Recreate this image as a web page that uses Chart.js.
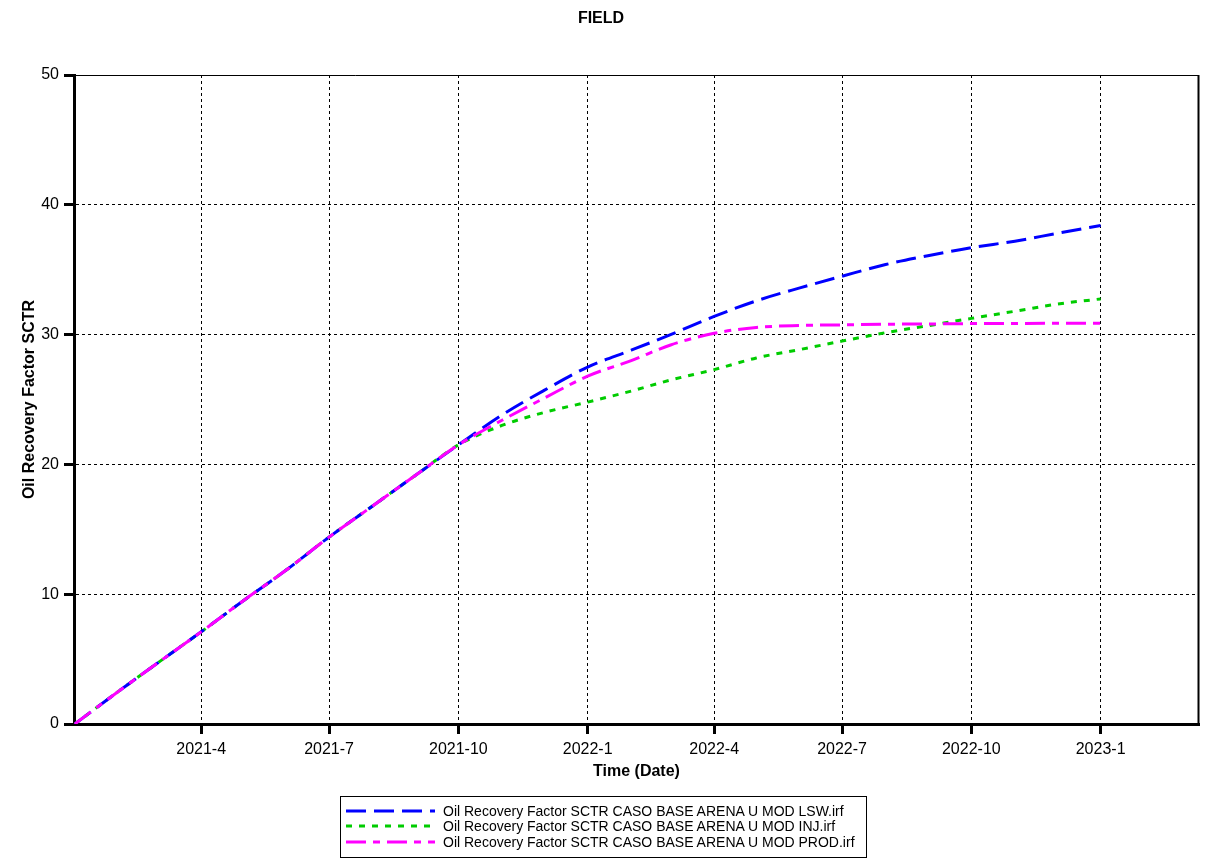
<!DOCTYPE html>
<html>
<head>
<meta charset="utf-8">
<title>FIELD</title>
<script src="https://cdn.jsdelivr.net/npm/chart.js@4.4.0/dist/chart.umd.min.js"></script>
<style>
html, body { margin: 0; padding: 0; background: #fff; }
#wrap { position: relative; width: 1205px; height: 865px; }
#legend {
    position: absolute; left: 340px; top: 796px; width: 527px; height: 62px;
    box-sizing: border-box; border: 1px solid #000; padding-top: 6px;
    font: 14px "Liberation Sans", Arial, sans-serif; color: #000;
}
.row { display: flex; align-items: center; height: 15.6px; white-space: nowrap; }
.row svg { margin-left: 5px; margin-right: 8px; flex: none; }
</style>
</head>
<body>
<div id="wrap">
    <canvas id="chart" width="1205" height="865"></canvas>
    <div id="legend"></div>
</div>
<script>
// monthly samples
const dates = [
    '2021-01-01', '2021-02-01', '2021-03-01', '2021-04-01', '2021-05-01', '2021-06-01',
    '2021-07-01', '2021-08-01', '2021-09-01', '2021-10-01', '2021-11-01', '2021-12-01',
    '2022-01-01', '2022-02-01', '2022-03-01', '2022-04-01', '2022-05-01', '2022-06-01',
    '2022-07-01', '2022-08-01', '2022-09-01', '2022-10-01', '2022-11-01', '2022-12-01',
    '2023-01-01'
];
const lswValues  = [0, 2.5, 4.7, 7.1, 9.5, 11.9, 14.4, 16.8, 19.2, 21.5, 23.8, 25.7, 27.5, 28.8, 30.0, 31.4, 32.6, 33.6, 34.5, 35.4, 36.1, 36.7, 37.2, 37.8, 38.4];
const injValues  = [0, 2.5, 4.7, 7.1, 9.5, 11.9, 14.4, 16.8, 19.2, 21.5, 23.0, 24.0, 24.8, 25.65, 26.5, 27.3, 28.2, 28.85, 29.5, 30.15, 30.7, 31.25, 31.8, 32.35, 32.75];
const prodValues = [0, 2.5, 4.7, 7.1, 9.5, 11.9, 14.4, 16.8, 19.2, 21.5, 23.4, 25.1, 26.8, 28.0, 29.2, 30.1, 30.55, 30.7, 30.75, 30.8, 30.82, 30.85, 30.86, 30.87, 30.88];

const seriesNames = [
    'Oil Recovery Factor SCTR CASO BASE ARENA U MOD LSW.irf',
    'Oil Recovery Factor SCTR CASO BASE ARENA U MOD INJ.irf',
    'Oil Recovery Factor SCTR CASO BASE ARENA U MOD PROD.irf'
];

const xTickDates  = ['2021-04-01', '2021-07-01', '2021-10-01', '2022-01-01', '2022-04-01', '2022-07-01', '2022-10-01', '2023-01-01'];
const xTickLabels = ['2021-4', '2021-7', '2021-10', '2022-1', '2022-4', '2022-7', '2022-10', '2023-1'];
const xStart = '2020-12-31T12:00:00Z';
const xEnd = '2023-03-12T00:00:00Z';

const colors = ['#0000ff', '#00cc00', '#ff00ff'];
const dashes = [[20, 8], [6, 7], [20, 7, 7, 7]];

// days since 2021-01-01, used as the linear x value
const t0 = Date.UTC(2021, 0, 1);
function dayOf(s){ return (Date.parse(s.length === 10 ? s + 'T00:00:00Z' : s) - t0) / 86400000; }

const font = '"Liberation Sans", Arial, sans-serif';
Chart.defaults.font.family = font;
Chart.defaults.color = '#000';

function toPoints(vals){ return dates.map((d, i) => ({ x: dayOf(d), y: vals[i] })); }

const allValues = [lswValues, injValues, prodValues];
const drawOrder = [1, 2, 0]; // magenta on top, green at the bottom
const datasets = allValues.map((vals, i) => ({
    label: seriesNames[i],
    data: toPoints(vals),
    borderColor: colors[i],
    backgroundColor: colors[i],
    borderWidth: 3,
    borderDash: dashes[i],
    pointRadius: 0,
    fill: false,
    cubicInterpolationMode: 'monotone',
    order: drawOrder[i]
}));

const tickDays = xTickDates.map(dayOf);

// frame top/right plus the chart title
const framePlugin = {
    id: 'frame',
    afterDraw(chart){
        const { ctx, chartArea: a } = chart;
        ctx.save();
        ctx.strokeStyle = '#000';
        ctx.lineWidth = 1;
        ctx.beginPath(); ctx.moveTo(a.left, a.top + 0.5); ctx.lineTo(a.right, a.top + 0.5); ctx.stroke();
        ctx.lineWidth = 2;
        ctx.beginPath(); ctx.moveTo(a.right - 0.5, a.top); ctx.lineTo(a.right - 0.5, a.bottom); ctx.stroke();
        ctx.fillStyle = '#000';
        ctx.font = 'bold 16px ' + font;
        ctx.textAlign = 'center';
        ctx.textBaseline = 'middle';
        ctx.fillText('FIELD', 601, 19);
        ctx.restore();
    }
};

const gridOpts = {
    color: '#000', lineWidth: 1,
    tickLength: 10, tickWidth: 3, tickColor: '#000', tickBorderDash: []
};
const borderOpts = { color: '#000', width: 3, dash: [3, 3] };

new Chart(document.getElementById('chart'), {
    type: 'line',
    data: { datasets },
    plugins: [framePlugin],
    options: {
        responsive: false,
        animation: false,
        devicePixelRatio: 1,
        layout: { padding: { top: 75, right: 6, bottom: 81, left: 0 } },
        plugins: { legend: { display: false }, title: { display: false }, tooltip: { enabled: false } },
        scales: {
            x: {
                type: 'linear',
                min: dayOf(xStart),
                max: dayOf(xEnd),
                afterBuildTicks: s => { s.ticks = tickDays.map(v => ({ value: v })); },
                afterFit: s => { s.height = 60; },
                ticks: {
                    autoSkip: false, maxRotation: 0, padding: 6,
                    font: { size: 16 }, color: '#000',
                    callback: (v, i) => xTickLabels[i]
                },
                grid: gridOpts,
                border: borderOpts,
                title: { display: true, text: 'Time (Date)', font: { size: 16, weight: 'bold' }, padding: { top: 0, bottom: 2.4 } }
            },
            y: {
                min: 0, max: 50,
                afterFit: s => { s.width = 74; },
                ticks: { stepSize: 10, padding: 5, font: { size: 16 }, color: '#000' },
                grid: gridOpts,
                border: borderOpts,
                title: { display: true, text: 'Oil Recovery Factor SCTR', font: { size: 16, weight: 'bold' }, padding: { top: 20.4, bottom: 0 } }
            }
        }
    }
});

// legend as html rows with svg line samples
const legend = document.getElementById('legend');
seriesNames.forEach((name, i) => {
    const row = document.createElement('div');
    row.className = 'row';
    row.innerHTML = `<svg width="89" height="6"><line x1="0" y1="3" x2="89" y2="3" stroke="${colors[i]}" stroke-width="3" stroke-dasharray="${dashes[i].join(' ')}"/></svg><span>${name}</span>`;
    legend.appendChild(row);
});
</script>
</body>
</html>
